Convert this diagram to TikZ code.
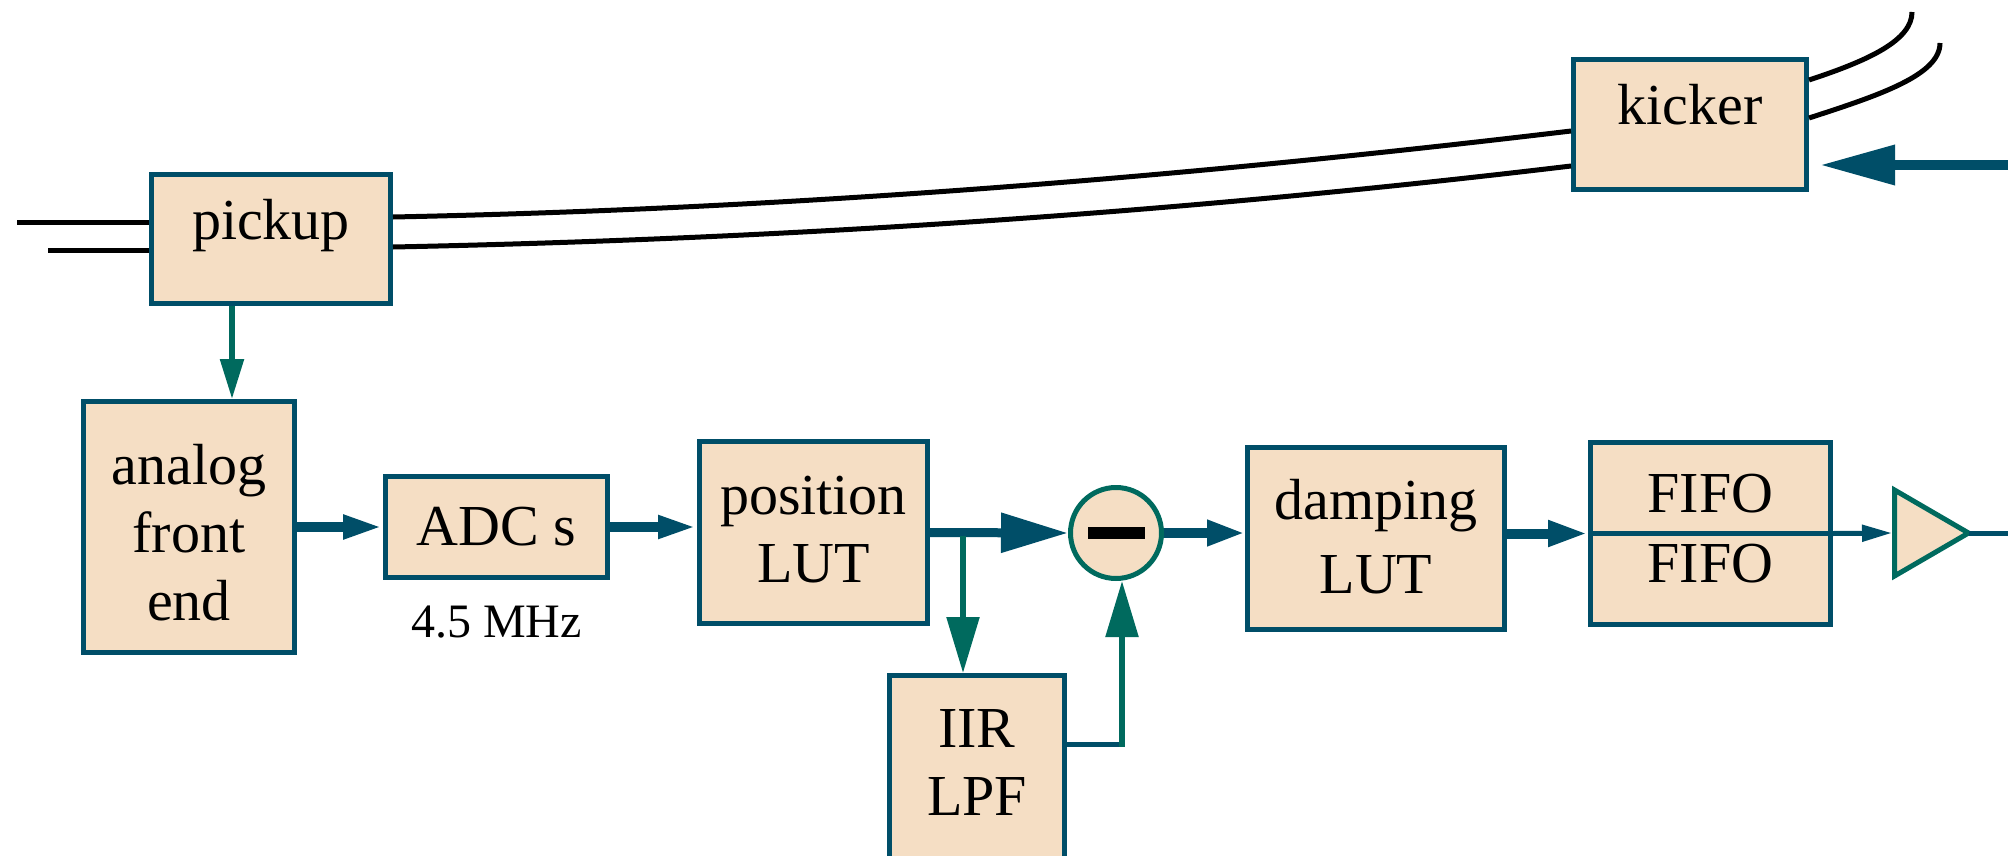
\documentclass[tikz,border=0pt]{standalone}
\usepackage{fontspec}
\setmainfont{Liberation Serif}
\usetikzlibrary{positioning}
\usetikzlibrary{arrows.meta}
\usetikzlibrary{shapes.geometric}
\definecolor{boxfill}{RGB}{245,222,196}
\definecolor{dblue}{RGB}{0,78,104}
\definecolor{dteal}{RGB}{0,106,94}
\tikzset{block/.style = {draw=dblue, fill=boxfill, line width=2.5pt, align=center,
                         inner sep=0pt, font=\fontsize{29}{34}\selectfont}}
\tikzset{beam/.style = {line width=2.5pt, black}}
\tikzset{bus/.style = {draw=dblue, line width=5pt}}
\tikzset{wire/.style = {draw=dblue, line width=2.5pt}}
\tikzset{tap/.style = {draw=dteal, line width=2.75pt}}
\tikzset{arrowhead/.style 2 args = {-{Triangle[length=#1,width=#2]}}}

\begin{document}
\begin{tikzpicture}[x=0.5pt, y=-0.5pt]
  \useasboundingbox (0,0) rectangle (2008,856);
  \clip (0,0) rectangle (2008,856);
  % blocks
  \node[block, minimum width=119.5pt, minimum height=64.5pt,
        text height=20pt, text depth=20pt] (pickup) at (271,239) {pickup};
  \node[block, minimum width=116.5pt, minimum height=65pt,
        text height=20pt, text depth=20pt] (kicker) at (1690,124.5) {kicker};
  \node[block, minimum width=105.5pt, minimum height=125.5pt,
        text height=93pt, text depth=0pt] (analog) at (189,527) {analog\\front\\end};
  \node[block, minimum width=111pt, minimum height=50.5pt] (adc) at (496.5,527) {ADC s};
  \node[block, minimum width=114pt, minimum height=91pt,
        text height=55pt, text depth=5.5pt] (pos) at (813.5,532.5) {position\\LUT};
  \node[block, minimum width=128.5pt, minimum height=91pt, font=\fontsize{29}{37}\selectfont,
        text height=57.5pt, text depth=3pt] (damp) at (1376,538.5) {damping\\LUT};
  \node[block, minimum width=120pt, minimum height=91pt, font=\fontsize{29}{35}\selectfont,
        text height=54.5pt, text depth=6pt] (fifo) at (1710.5,533.5) {FIFO\\FIFO};
  \node[block, anchor=north, minimum width=87.5pt, minimum height=117.5pt,
        text height=53.5pt, text depth=31.5pt] (iir) at (977,673) {IIR\\LPF};
  \node[circle, draw=dteal, fill=boxfill, line width=2.5pt, inner sep=0pt,
        minimum size=45.5pt, text height=9pt, text depth=0pt] (minus) at (1116,533) {\rule[1.5pt]{28.5pt}{6pt}};
  \node[isosceles triangle, isosceles triangle stretches, draw=dteal, fill=boxfill,
        line width=2.5pt, inner sep=0pt, minimum width=43pt, minimum height=37pt,
        anchor=west] (amp) at (1892,533) {};
  \node[font=\fontsize{24}{28}\selectfont, inner sep=0pt, below=13pt of adc] (rate) {4.5 MHz};
  % beam pipe
  \draw[beam] (17,222) -- ([yshift=8.5pt]pickup.west);
  \draw[beam] (48,250) -- ([yshift=-5.5pt]pickup.west);
  \draw[beam] ([yshift=11pt]pickup.east) .. controls (786,209) and (1178,178) .. ([yshift=-3.25pt]kicker.west);
  \draw[beam] ([yshift=-4pt]pickup.east) .. controls (786,239) and (1178,213) .. ([yshift=-20.75pt]kicker.west);
  \draw[beam] ([yshift=22.25pt]kicker.east) .. controls (1870,60) and (1912,40) .. (1912,12);
  \draw[beam] ([yshift=3.25pt]kicker.east) .. controls (1880,95) and (1940,75) .. (1940,43);
  % signal path
  \coordinate (split) at (963,536);
  \coordinate (fb) at (1122,744);
  \coordinate (out) at (2020,533);
  \coordinate (drive) at (2020,165);
  \draw[tap, arrowhead={20pt}{11.5pt}] ([xshift=-19.5pt]pickup.south) -- ([xshift=-19.5pt]pickup.south |- analog.north);
  \draw[bus, arrowhead={20pt}{11pt}] (analog.east) -- (adc.west);
  \draw[bus, arrowhead={19.5pt}{10.5pt}] (adc.east) -- (adc.east -| pos.west);
  \draw[bus, line width=4.5pt, arrowhead={33.5pt}{19pt}] (pos.east) -- (minus.west);
  \draw[tap, arrowhead={28pt}{16pt}] (split) -- (split |- iir.north);
  \draw[wire] (fb -| iir.east) -- (fb);
  \draw[tap, arrowhead={28pt}{16pt}] ([yshift=-1.3pt]fb) -- (fb |- minus.south);
  \draw[bus, arrowhead={19pt}{12pt}] (minus.east) -- (minus.east -| damp.west);
  \draw[bus, arrowhead={20pt}{12pt}] (fifo.west -| damp.east) -- (fifo.west);
  \draw[wire] (fifo.west) -- (fifo.east);
  \draw[wire, arrowhead={15pt}{8pt}] (fifo.east) -- (amp.west);
  \draw[wire] ([xshift=-3pt]amp.apex) -- (out);
  \draw[bus, arrowhead={37.5pt}{19pt}, shorten >=5.5pt] (drive) -- (drive -| kicker.east);
\end{tikzpicture}
\end{document}
